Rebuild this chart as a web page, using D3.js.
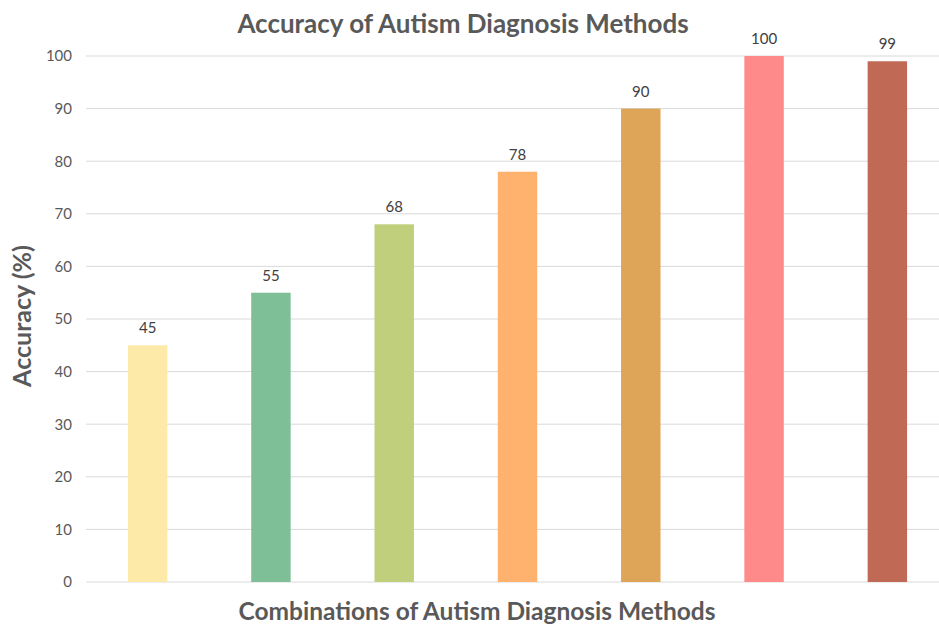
<!DOCTYPE html>
<html>
<head>
<meta charset="utf-8">
<script src="https://cdn.jsdelivr.net/npm/d3@7"></script>
<style>
  html, body { margin: 0; padding: 0; background: #fff; }
  svg { display: block; }
</style>
</head>
<body>
<svg id="chart" width="939" height="629"></svg>
<script>
// Accuracy of each combination of diagnosis methods
const methods = ["M1", "M2", "M3", "M4", "M5", "M6", "M7"];
const accuracy = [45, 55, 68, 78, 90, 100, 99];
const barColors = ["#FDEAA8", "#7FBF98", "#BFCF7B", "#FFB26E", "#DEA458", "#FF8A8A", "#C06A56"];
const yTicks = [0, 10, 20, 30, 40, 50, 60, 70, 80, 90, 100];

const svg = d3.select("#chart");
const plot = { left: 86, right: 949, top: 56, bottom: 582 };
const gridRight = 939;
const font = "Lato, 'Open Sans', 'DejaVu Sans', sans-serif";

const x = d3.scaleBand()
  .domain(methods)
  .range([plot.left, plot.right])
  .paddingInner(0.68)
  .paddingOuter(0.34);

const y = d3.scaleLinear()
  .domain([0, 100])
  .range([plot.bottom, plot.top]);

// Horizontal gridlines
svg.append("g")
  .selectAll("line")
  .data(yTicks)
  .join("line")
  .attr("x1", plot.left)
  .attr("x2", gridRight)
  .attr("y1", d => y(d))
  .attr("y2", d => y(d))
  .attr("stroke", "#D9D9D9")
  .attr("stroke-width", 1);

// Y axis tick labels
const yAxis = d3.axisLeft(y).tickValues(yTicks).tickSize(0).tickPadding(14);
const yg = svg.append("g")
  .attr("transform", `translate(${plot.left},0)`)
  .call(yAxis);
yg.select(".domain").remove();
yg.selectAll("text")
  .attr("font-family", font)
  .attr("font-size", 15)
  .attr("fill", "#595959");

// Bars
svg.append("g")
  .selectAll("rect")
  .data(methods)
  .join("rect")
  .attr("x", d => x(d))
  .attr("width", x.bandwidth())
  .attr("y", (d, i) => y(accuracy[i]))
  .attr("height", (d, i) => y(0) - y(accuracy[i]))
  .attr("fill", (d, i) => barColors[i]);

// Value labels
svg.append("g")
  .selectAll("text")
  .data(methods)
  .join("text")
  .attr("x", d => x(d) + x.bandwidth() / 2)
  .attr("y", (d, i) => y(accuracy[i]) - 12)
  .attr("text-anchor", "middle")
  .attr("font-family", font)
  .attr("font-size", 15)
  .attr("fill", "#404040")
  .text((d, i) => accuracy[i]);

// Title
svg.append("text")
  .attr("x", 463)
  .attr("y", 33)
  .attr("text-anchor", "middle")
  .attr("font-family", font)
  .attr("font-weight", "bold")
  .attr("font-size", 26)
  .attr("fill", "#595959")
  .text("Accuracy of Autism Diagnosis Methods");

// X axis title
svg.append("text")
  .attr("x", 477)
  .attr("y", 620)
  .attr("text-anchor", "middle")
  .attr("font-family", font)
  .attr("font-weight", "bold")
  .attr("font-size", 24.5)
  .attr("fill", "#595959")
  .text("Combinations of Autism Diagnosis Methods");

// Y axis title
svg.append("text")
  .attr("transform", "translate(31,316) rotate(-90)")
  .attr("text-anchor", "middle")
  .attr("font-family", font)
  .attr("font-weight", "bold")
  .attr("font-size", 25)
  .attr("fill", "#595959")
  .text("Accuracy (%)");
</script>
</body>
</html>
